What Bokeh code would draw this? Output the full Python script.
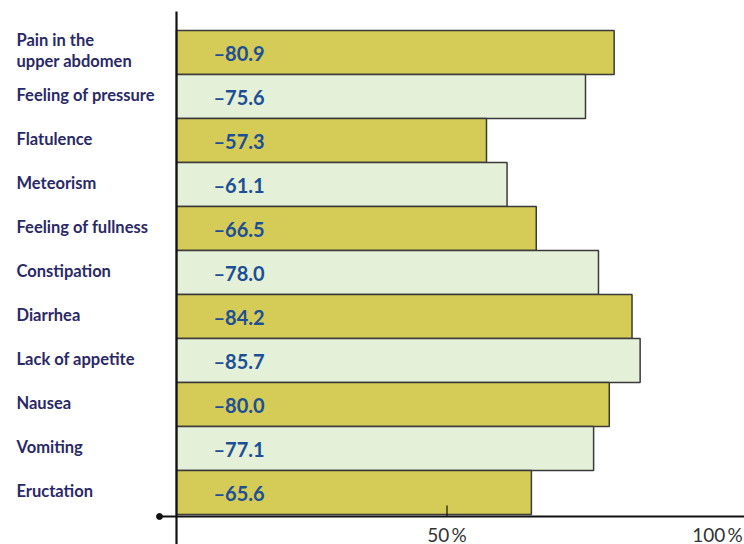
from bokeh.plotting import figure
from bokeh.models import ColumnDataSource, Range1d
from bokeh.core.properties import value
from bokeh.embed import file_html
from bokeh.resources import INLINE

categories = ["Pain in the\nupper abdomen", "Feeling of pressure", "Flatulence", "Meteorism",
              "Feeling of fullness", "Constipation", "Diarrhea", "Lack of appetite",
              "Nausea", "Vomiting", "Eructation"]
values = [-80.9, -75.6, -57.3, -61.1, -66.5, -78.0, -84.2, -85.7, -80.0, -77.1, -65.6]
tick_values = [50, 100]
tick_labels = ["50\u2009%", "100\u2009%"]

W, H = 744, 544
x0_px, sx = 176.0, 5.41      # pixel of x=0, pixels per percent
y0_px, sy = 52.0, 44.0       # pixel (from top) of row 0 centre, pixels per row

def xd(px):
    return (px - x0_px) / sx

def yd(py):
    return -(py - y0_px) / sy

rows = [-i for i in range(len(categories))]
lengths = [-v for v in values]
colors = ["#D5CB57" if i % 2 == 0 else "#E4F0D7" for i in range(len(categories))]
vlabels = ["\u2013" + f"{abs(v):.1f}" for v in values]

src = ColumnDataSource(dict(y=rows, right=lengths, color=colors, cat=categories, vl=vlabels))

p = figure(width=W, height=H, output_backend="svg", toolbar_location=None,
           x_range=Range1d(xd(0), xd(W)), y_range=Range1d(yd(H), yd(0)),
           min_border=0, outline_line_color=None)
p.axis.visible = False
p.grid.visible = False
p.background_fill_color = "white"

p.hbar(y="y", left=0, right="right", height=1, source=src, fill_color="color",
       line_color="#3a3a3a", line_width=1.5)

p.text(x=xd(16), y="y", text="cat", source=src, y_offset=-2, text_font=value("Lato"),
       text_font_style="bold", text_font_size="16.5px", text_color="#2A2968",
       text_baseline="middle", text_align="left", text_line_height=1.05)

p.text(x=0, y="y", text="vl", source=src, x_offset=37, text_font=value("Lato"),
       text_font_style="bold", text_font_size="20px", text_color="#1C4F96",
       text_baseline="middle", text_align="left")

base_y = yd(516)
# axes
p.segment(x0=[0], y0=[yd(11)], x1=[0], y1=[yd(H)], line_color="#111111", line_width=2.2)
p.segment(x0=[xd(159)], y0=[base_y], x1=[xd(W)], y1=[base_y], line_color="#111111", line_width=2.2)
p.scatter(x=[xd(159)], y=[base_y], size=6, color="#111111")

# ticks
p.segment(x0=tick_values[:1], y0=[base_y], x1=tick_values[:1], y1=[base_y + 11 / sy],
          line_color="#111111", line_width=1.2)
p.text(x=tick_values, y=[base_y] * len(tick_values), text=tick_labels, y_offset=6,
       text_font=value("Lato"), text_font_size="19px", text_color="#333333",
       text_baseline="top", text_align="center")

open("out.html", "w").write(file_html(p, INLINE))
